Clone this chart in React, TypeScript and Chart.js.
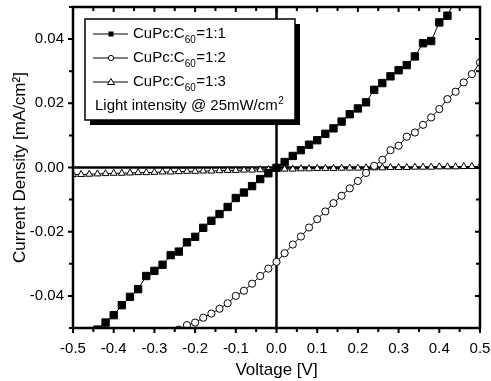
import React, { useEffect, useRef } from 'react';
import { Chart, registerables } from 'chart.js';

Chart.register(...registerables);

const FONT = "'Liberation Sans', Arial, Helvetica, sans-serif";

// Voltage [V] sample points
const voltage = [
  -0.5, -0.48, -0.46, -0.44, -0.42, -0.4, -0.38, -0.36, -0.34, -0.32,
  -0.3, -0.28, -0.26, -0.24, -0.22, -0.2, -0.18, -0.16, -0.14, -0.12,
  -0.1, -0.08, -0.06, -0.04, -0.02, 0.0, 0.02, 0.04, 0.06, 0.08,
  0.1, 0.12, 0.14, 0.16, 0.18, 0.2, 0.22, 0.24, 0.26, 0.28,
  0.3, 0.32, 0.34, 0.36, 0.38, 0.4, 0.42, 0.44, 0.46, 0.48, 0.5,
];

// CuPc:C60 = 1:1 (filled squares)
const density11: (number | null)[] = [
  null, null, null, -0.0505, -0.0483, -0.046, -0.0429, -0.0403, -0.0379, -0.0338,
  -0.0322, -0.0303, -0.0273, -0.0262, -0.0233, -0.0216, -0.0188, -0.0166, -0.0145, -0.0123,
  -0.0095, -0.0078, -0.0058, -0.0036, -0.0018, -0.0001, 0.0017, 0.0036, 0.0054, 0.0071,
  0.0085, 0.0105, 0.0122, 0.0143, 0.0166, 0.0184, 0.0203, 0.0242, 0.0263, 0.0284,
  0.0303, 0.0319, 0.0346, 0.0387, 0.0394, 0.0452, 0.0473, 0.0525, null, null, null,
];

// CuPc:C60 = 1:2 (open circles)
const density12: (number | null)[] = [
  null, null, null, null, null, null, null, null, null, null,
  null, null, null, -0.0505, -0.0491, -0.0483, -0.0468, -0.0455, -0.044, -0.0423,
  -0.04, -0.0384, -0.0362, -0.0338, -0.0315, -0.0294, -0.0267, -0.024, -0.0215, -0.0187,
  -0.0161, -0.0137, -0.0111, -0.0088, -0.0065, -0.0042, -0.0017, 0.0005, 0.0024, 0.0054,
  0.0068, 0.0096, 0.0109, 0.0133, 0.0156, 0.0182, 0.0213, 0.0236, 0.0265, 0.0291, 0.0327,
];

// CuPc:C60 = 1:3 (open triangles)
const density13: (number | null)[] = [
  -0.0022, -0.0022, -0.0021, -0.002, -0.0019, -0.0018, -0.0018, -0.0017, -0.0016, -0.0016,
  -0.0015, -0.0014, -0.0014, -0.0013, -0.0012, -0.0012, -0.0011, -0.0011, -0.001, -0.0009,
  -0.0009, -0.0008, -0.0008, -0.0007, -0.0007, -0.0006, -0.0005, -0.0005, -0.0004, -0.0004,
  -0.0003, -0.0003, -0.0003, -0.0002, -0.0002, -0.0002, -0.0001, -0.0001, -0.0001, 0.0,
  0.0, 0.0, 0.0001, 0.0001, 0.0001, 0.0002, 0.0002, 0.0002, 0.0003, 0.0003, 0.0003,
];

const legendPrefix = 'CuPc:C';
const legendSub = '60';
const legendRatios = ['=1:1', '=1:2', '=1:3'];
const legendMarkers = ['square', 'circle', 'triangle'];
const legendNote = 'Light intensity @ 25mW/cm';
const legendNoteSup = '2';

const xTitle = 'Voltage [V]';
const yTitle = 'Current Density [mA/cm\u00B2]';

const toPoints = (vals: (number | null)[]) =>
  voltage
    .map((v, i) => ({ x: v, y: vals[i] }))
    .filter((p) => p.y !== null) as { x: number; y: number }[];

function drawMarker(ctx: CanvasRenderingContext2D, kind: string, x: number, y: number) {
  ctx.save();
  ctx.lineWidth = 1;
  ctx.strokeStyle = '#000';
  if (kind === 'square') {
    ctx.fillStyle = '#000';
    ctx.fillRect(x - 2.5, y - 2.5, 5, 5);
  } else if (kind === 'circle') {
    ctx.fillStyle = '#fff';
    ctx.beginPath();
    ctx.arc(x, y, 2.6, 0, Math.PI * 2);
    ctx.fill();
    ctx.stroke();
  } else {
    ctx.fillStyle = '#fff';
    ctx.beginPath();
    ctx.moveTo(x, y - 3.5);
    ctx.lineTo(x + 3.5, y + 2.5);
    ctx.lineTo(x - 3.5, y + 2.5);
    ctx.closePath();
    ctx.fill();
    ctx.stroke();
  }
  ctx.restore();
}

const framePlugin = {
  id: 'framePlugin',
  beforeDatasetsDraw(chart: any) {
    const { ctx, chartArea, scales } = chart;
    const { left, right, top, bottom } = chartArea;
    const y0 = scales.y.getPixelForValue(0);
    const x0 = scales.x.getPixelForValue(0);
    ctx.save();
    ctx.strokeStyle = '#000';
    ctx.lineWidth = 2.5;
    ctx.beginPath();
    ctx.moveTo(left, y0);
    ctx.lineTo(right, y0);
    ctx.moveTo(x0, top);
    ctx.lineTo(x0, bottom);
    ctx.stroke();
    ctx.restore();
  },
  afterDatasetsDraw(chart: any) {
    const { ctx, chartArea, scales } = chart;
    const { left, right, top, bottom } = chartArea;
    ctx.save();
    ctx.strokeStyle = '#000';
    ctx.lineWidth = 2.5;
    ctx.strokeRect(left, top, right - left, bottom - top);

    // tick marks
    ctx.lineWidth = 2;
    ctx.beginPath();
    for (const t of scales.x.ticks) {
      const px = scales.x.getPixelForValue(t.value);
      const major = Math.abs(Math.round(t.value * 20)) % 2 === 0;
      const len = major ? 5 : 4;
      ctx.moveTo(px, bottom);
      ctx.lineTo(px, bottom + len);
      ctx.moveTo(px, top);
      ctx.lineTo(px, top + len);
    }
    for (const t of scales.y.ticks) {
      const py = scales.y.getPixelForValue(t.value);
      const major = Math.abs(Math.round(t.value * 100)) % 2 === 0;
      const len = major ? 5 : 4;
      ctx.moveTo(left - len, py);
      ctx.lineTo(left, py);
      ctx.moveTo(right, py);
      ctx.lineTo(right - len, py);
    }
    ctx.stroke();

    // legend box with shadow
    const bx = 85, by = 19, bw = 210, bh = 101;
    ctx.fillStyle = '#000';
    ctx.fillRect(bx + 5, by + 5, bw, bh);
    ctx.fillStyle = '#fff';
    ctx.fillRect(bx, by, bw, bh);
    ctx.lineWidth = 1.5;
    ctx.strokeRect(bx, by, bw, bh);

    const rowY = [34, 58, 82];
    ctx.textBaseline = 'middle';
    ctx.fillStyle = '#000';
    legendRatios.forEach((ratio, i) => {
      const yy = rowY[i];
      ctx.lineWidth = 1;
      ctx.beginPath();
      ctx.moveTo(93, yy);
      ctx.lineTo(128, yy);
      ctx.stroke();
      drawMarker(ctx, legendMarkers[i], 111, yy);
      let tx = 133;
      ctx.font = `15px ${FONT}`;
      ctx.fillStyle = '#000';
      ctx.fillText(legendPrefix, tx, yy);
      tx += ctx.measureText(legendPrefix).width;
      ctx.font = `10px ${FONT}`;
      ctx.fillText(legendSub, tx, yy + 6);
      tx += ctx.measureText(legendSub).width + 0.5;
      ctx.font = `15px ${FONT}`;
      ctx.fillText(ratio, tx, yy);
    });
    ctx.font = `15px ${FONT}`;
    ctx.fillText(legendNote, 95, 106);
    const nw = ctx.measureText(legendNote).width;
    ctx.font = `10px ${FONT}`;
    ctx.fillText(legendNoteSup, 95 + nw + 0.5, 101);
    ctx.restore();
  },
};

export default function App() {
  const ref = useRef<HTMLCanvasElement | null>(null);

  useEffect(() => {
    document.body.style.margin = '0';
    const canvas = ref.current;
    if (!canvas) return;
    const common = {
      borderColor: '#000',
      borderWidth: 1,
      tension: 0,
      pointBorderColor: '#000',
      pointBorderWidth: 1,
    };
    const chart = new Chart(canvas, {
      type: 'line',
      data: {
        datasets: [
          {
            ...common,
            label: legendPrefix + legendSub + legendRatios[0],
            data: toPoints(density11),
            pointStyle: 'rect',
            pointRadius: 5.2,
            pointBackgroundColor: '#000',
            backgroundColor: '#000',
          },
          {
            ...common,
            label: legendPrefix + legendSub + legendRatios[1],
            data: toPoints(density12),
            pointStyle: 'circle',
            pointRadius: 3.6,
            pointBackgroundColor: '#fff',
            backgroundColor: '#fff',
          },
          {
            ...common,
            label: legendPrefix + legendSub + legendRatios[2],
            data: toPoints(density13),
            pointStyle: 'triangle',
            pointRadius: 4,
            pointBackgroundColor: '#fff',
            backgroundColor: '#fff',
          },
        ],
      } as any,
      options: {
        animation: false,
        responsive: false,
        devicePixelRatio: 1,
        layout: { padding: { top: 7, right: 11, left: 0, bottom: 0 } },
        plugins: {
          legend: { display: false },
          tooltip: { enabled: false },
        },
        scales: {
          x: {
            type: 'linear',
            min: -0.5,
            max: 0.5,
            grid: { display: false, drawTicks: false },
            border: { display: false },
            ticks: {
              stepSize: 0.05,
              autoSkip: false,
              maxRotation: 0,
              color: '#000',
              padding: 12,
              font: { size: 15, family: FONT },
              callback: (v: any) => {
                const n = Number(v);
                if (Math.abs(Math.round(n * 20)) % 2 !== 0) return '';
                return (Math.round(n * 10) / 10).toFixed(1);
              },
            },
            title: {
              display: true,
              text: xTitle,
              color: '#000',
              font: { size: 17, family: FONT },
              padding: { top: 0, bottom: 0 },
            },
            afterFit: (s: any) => {
              s.height = 53;
              s.paddingLeft = 0;
              s.paddingRight = 0;
            },
          },
          y: {
            type: 'linear',
            min: -0.05,
            max: 0.05,
            grid: { display: false, drawTicks: false },
            border: { display: false },
            ticks: {
              stepSize: 0.01,
              autoSkip: false,
              color: '#000',
              padding: 9,
              font: { size: 15, family: FONT },
              callback: (v: any) => {
                const n = Number(v);
                if (Math.abs(Math.round(n * 100)) % 2 !== 0) return '';
                const r = Math.round(n * 100) / 100;
                return Math.abs(r) < 1e-9 ? '0.00' : r.toFixed(2);
              },
            },
            title: {
              display: true,
              text: yTitle,
              color: '#000',
              font: { size: 17, family: FONT },
              padding: { top: 10, bottom: 0 },
            },
            afterFit: (s: any) => {
              s.width = 73;
              s.paddingTop = 0;
              s.paddingBottom = 0;
            },
          },
        },
      } as any,
      plugins: [framePlugin],
    });
    return () => chart.destroy();
  }, []);

  return (
    <div style={{ width: 491, height: 381 }}>
      <canvas ref={ref} width={491} height={381} style={{ display: 'block' }} />
    </div>
  );
}
